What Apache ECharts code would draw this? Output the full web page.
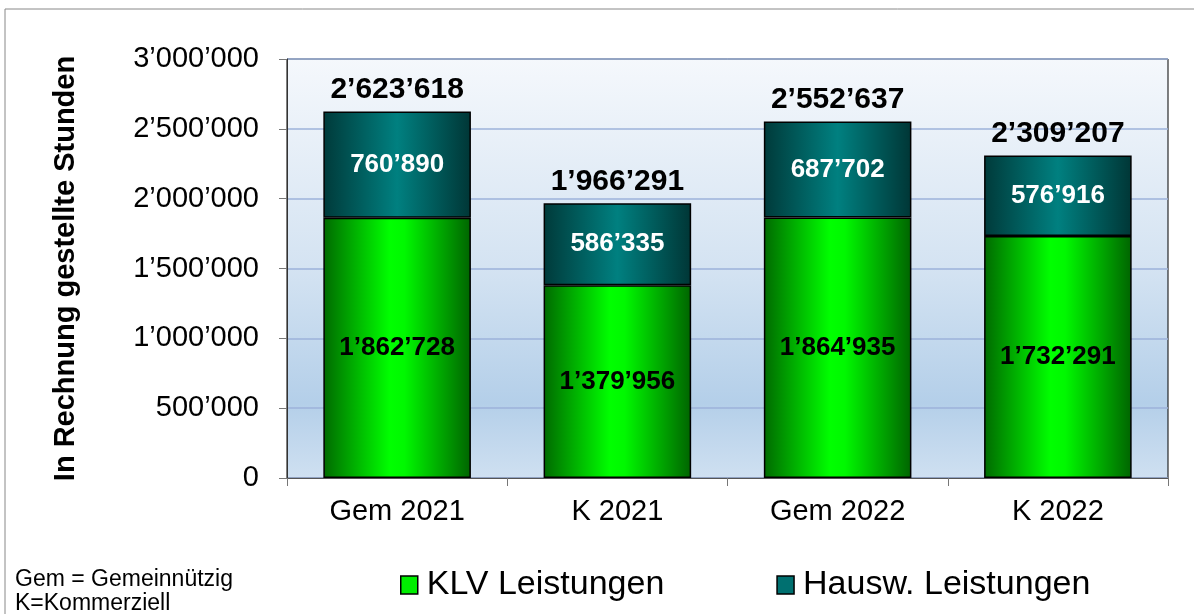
<!DOCTYPE html>
<html>
<head>
<meta charset="utf-8">
<script src="https://cdn.jsdelivr.net/npm/echarts@6/dist/echarts.min.js"></script>
<style>
  html, body { margin: 0; padding: 0; background: #ffffff; }
  #chart { width: 1194px; height: 614px; }
</style>
</head>
<body>
<div id="chart"></div>
<script>
var categories = ["Gem 2021", "K 2021", "Gem 2022", "K 2022"];
var klvValues = [1862728, 1379956, 1864935, 1732291];
var hauswValues = [760890, 586335, 687702, 576916];
var totalValues = [2623618, 1966291, 2552637, 2309207];
var yTicks = [0, 500000, 1000000, 1500000, 2000000, 2500000, 3000000];

var FONT = "Liberation Sans, Arial, sans-serif";

function fmt(v) {
  return String(v).replace(/\B(?=(\d{3})+(?!\d))/g, "\u2019");
}

var greenFill = new echarts.graphic.LinearGradient(0, 0, 1, 0, [
  { offset: 0, color: "#006a00" },
  { offset: 0.45, color: "#00ff00" },
  { offset: 0.55, color: "#00f800" },
  { offset: 1, color: "#006400" }
]);
var tealFill = new echarts.graphic.LinearGradient(0, 0, 1, 0, [
  { offset: 0, color: "#003a3a" },
  { offset: 0.5, color: "#008080" },
  { offset: 1, color: "#003636" }
]);
var plotFill = new echarts.graphic.LinearGradient(0, 0, 0, 1, [
  { offset: 0, color: "#f5f8fc" },
  { offset: 0.5, color: "#d4e3f2" },
  { offset: 0.82, color: "#b4cfe9" },
  { offset: 1, color: "#cfe0f1" }
]);

var chart = echarts.init(document.getElementById("chart"));
chart.setOption({
  backgroundColor: "#ffffff",
  animation: false,
  grid: {
    left: 287,
    right: 26,
    top: 59,
    bottom: 136,
    show: true,
    backgroundColor: plotFill,
    borderColor: "#000000",
    borderWidth: 1
  },
  legend: {
    left: 395,
    top: 563,
    itemWidth: 17,
    itemHeight: 18,
    itemGap: 112,
    icon: "rect",
    textStyle: { fontFamily: FONT, fontSize: 34, color: "#000000", padding: [0, 0, 0, 4] },
    data: [
      { name: "KLV Leistungen", itemStyle: { color: "#00ee00", borderColor: "#000", borderWidth: 1.5 } },
      { name: "Hausw. Leistungen", itemStyle: { color: "#007070", borderColor: "#000", borderWidth: 1.5 } }
    ]
  },
  xAxis: {
    type: "category",
    data: categories,
    axisLine: { show: true, lineStyle: { color: "#555555", width: 1 } },
    axisTick: { show: true, length: 8, lineStyle: { color: "#777777" } },
    axisLabel: { fontFamily: FONT, fontSize: 29, color: "#000000", margin: 19 }
  },
  yAxis: {
    type: "value",
    min: 0,
    max: 3000000,
    interval: 500000,
    name: "In Rechnung gestellte Stunden",
    nameLocation: "middle",
    nameGap: 207,
    nameTextStyle: { fontFamily: FONT, fontSize: 29, fontWeight: "bold", color: "#000000" },
    axisLine: { show: true, lineStyle: { color: "#333333", width: 1 } },
    axisTick: { show: true, length: 8, lineStyle: { color: "#777777" } },
    axisLabel: {
      fontFamily: FONT, fontSize: 29, color: "#000000", margin: 28,
      formatter: function (v) { return yTicks.indexOf(v) >= 0 ? fmt(v) : ""; }
    },
    splitLine: { show: true, lineStyle: { color: "#9db2da", width: 1.5 } }
  },
  series: [
    {
      name: "KLV Leistungen",
      type: "bar",
      stack: "total",
      barWidth: "67%",
      data: klvValues,
      itemStyle: { color: greenFill, borderColor: "#000000", borderWidth: 1.5 },
      label: {
        show: true, position: "inside",
        fontFamily: FONT, fontSize: 26, fontWeight: "bold", color: "#000000",
        formatter: function (p) { return fmt(p.value); }
      }
    },
    {
      name: "Hausw. Leistungen",
      type: "bar",
      stack: "total",
      barWidth: "67%",
      data: hauswValues,
      itemStyle: { color: tealFill, borderColor: "#000000", borderWidth: 1.5 },
      label: {
        show: true, position: "inside",
        fontFamily: FONT, fontSize: 26, fontWeight: "bold", color: "#ffffff",
        formatter: function (p) { return fmt(p.value); }
      }
    },
    {
      name: "Total",
      type: "scatter",
      data: totalValues,
      symbolSize: 0,
      silent: true,
      itemStyle: { opacity: 1 },
      label: {
        show: true, position: "top", distance: 7,
        fontFamily: FONT, fontSize: 30, fontWeight: "bold", color: "#000000",
        formatter: function (p) { return fmt(p.value); }
      }
    }
  ],
  graphic: [
    {
      type: "rect",
      shape: { x: 5, y: 9, width: 1300, height: 700 },
      style: { fill: "none", stroke: "#888888", lineWidth: 1 },
      silent: true
    },
    {
      type: "text",
      left: 15,
      top: 568,
      style: { text: "Gem = Gemeinn\u00fctzig", fontFamily: FONT, fontSize: 23, fill: "#000000" }
    },
    {
      type: "text",
      left: 15,
      top: 592,
      style: { text: "K=Kommerziell", fontFamily: FONT, fontSize: 23, fill: "#000000" }
    }
  ]
});
</script>
</body>
</html>
